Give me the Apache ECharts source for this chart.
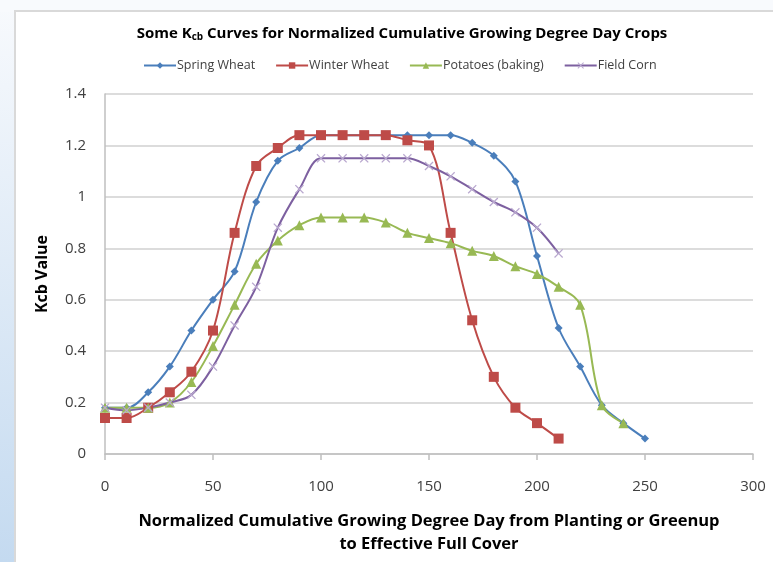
<!DOCTYPE html>
<html><head><meta charset="utf-8">
<script src="https://cdn.jsdelivr.net/npm/echarts@6/dist/echarts.min.js"></script>
<style>html,body{margin:0;padding:0;background:#fff}#c{width:773px;height:562px}</style>
</head><body><div id="c"></div>
<script>
const xValues = [0,10,20,30,40,50,60,70,80,90,100,110,120,130,140,150,160,170,180,190,200,210,220,230,240,250];
const springWheat = [0.18,0.18,0.24,0.34,0.48,0.60,0.71,0.98,1.14,1.19,1.24,1.24,1.24,1.24,1.24,1.24,1.24,1.21,1.16,1.06,0.77,0.49,0.34,0.19,0.12,0.06];
const winterWheat = [0.14,0.14,0.18,0.24,0.32,0.48,0.86,1.12,1.19,1.24,1.24,1.24,1.24,1.24,1.22,1.20,0.86,0.52,0.30,0.18,0.12,0.06];
const potatoes = [0.18,0.18,0.18,0.20,0.28,0.42,0.58,0.74,0.83,0.89,0.92,0.92,0.92,0.90,0.86,0.84,0.82,0.79,0.77,0.73,0.70,0.65,0.58,0.19,0.12];
const fieldCorn = [0.18,0.17,0.18,0.20,0.23,0.34,0.50,0.65,0.88,1.03,1.15,1.15,1.15,1.15,1.15,1.12,1.08,1.03,0.98,0.94,0.88,0.78];
const seriesNames = ['Spring Wheat','Winter Wheat','Potatoes (baking)','Field Corn'];
const xTicks = [0,50,100,150,200,250,300];
const yTicks = [0,0.2,0.4,0.6,0.8,1,1.2,1.4];

const pair = arr => arr.map((v,i)=>[xValues[i], v]);
const crossPath = 'path://M1,0L5,4L9,0L10,1L6,5L10,9L9,10L5,6L1,10L0,9L4,5L0,1Z';
const colors = ['#4A7EBB','#BE4B48','#98B954','#7D60A0'];
const font = '"Open Sans", "Liberation Sans", sans-serif';

const chart = echarts.init(document.getElementById('c'), null, {renderer:'canvas'});
function mk(name, data, color, symbol, size, symColor){
  return {name, type:'line', data:pair(data), smooth:0.35, symbol, symbolSize:size,
    lineStyle:{color, width:2}, itemStyle:{color:symColor||color, borderWidth:0},
    emphasis:{disabled:true}, z: 3};
}
chart.setOption({
  animation:false,
  backgroundColor:'transparent',
  graphic:[
    {type:'rect', shape:{x:0,y:0,width:773,height:562}, z:-10,
     style:{fill:new echarts.graphic.LinearGradient(0,0,0,1,[{offset:0,color:'#F8FAFD'},{offset:1,color:'#C4DAF0'}])}},
    {type:'rect', shape:{x:0,y:0,width:773,height:12}, z:-9, style:{fill:'#F8FAFD'}},
    {type:'rect', shape:{x:15,y:11,width:770,height:560}, z:-8, style:{fill:'#ffffff', stroke:'#D9D9D9', lineWidth:2}}
  ],
  title:{
    text:'Some K{sub|cb} Curves for Normalized Cumulative Growing Degree Day Crops',
    left:397, top:20, textAlign:'center',
    textStyle:{fontFamily:font, fontSize:15, fontWeight:'bold', color:'#000',
      rich:{sub:{fontFamily:font, fontSize:10, fontWeight:'bold', verticalAlign:'bottom', padding:[7,0,0,0]}}}
  },
  legend:{
    top:54, left:138, width:630, orient:'horizontal', itemGap:20, itemWidth:32, itemHeight:8,
    textStyle:{fontFamily:font, fontSize:12.5, color:'#404040', padding:[0,0,0,-4]},
    data:seriesNames
  },
  grid:{left:105, right:20, top:94, bottom:108, containLabel:false},
  xAxis:{
    type:'value', min:0, max:300, interval:50,
    name:'Normalized Cumulative Growing Degree Day from Planting or Greenup\nto Effective Full Cover',
    nameLocation:'middle', nameGap:56,
    nameTextStyle:{fontFamily:font, fontSize:16.5, fontWeight:'bold', color:'#000', lineHeight:23},
    axisLine:{lineStyle:{color:'#BFBFBF', width:1.5}},
    axisTick:{show:true, length:6, lineStyle:{color:'#BFBFBF', width:1.5}},
    axisLabel:{fontFamily:font, fontSize:15, color:'#404040', margin:25,
      formatter:v=>xTicks.includes(v)?String(v):''},
    splitLine:{show:false}
  },
  yAxis:{
    type:'value', min:0, max:1.4, interval:0.2,
    name:'Kcb Value', nameLocation:'middle', nameGap:55, nameRotate:90,
    nameTextStyle:{fontFamily:font, fontSize:16, fontWeight:'bold', color:'#000'},
    axisLine:{show:true, lineStyle:{color:'#BFBFBF', width:1.5}},
    axisTick:{show:false},
    axisLabel:{fontFamily:font, fontSize:15, color:'#404040', margin:19,
      formatter:v=>{const t=yTicks.find(y=>Math.abs(y-v)<1e-9); return t===undefined?'':String(+t.toFixed(1));}},
    splitLine:{show:true, lineStyle:{color:'#D0D0D0', width:1.5}}
  },
  series:[
    mk(seriesNames[0], springWheat, colors[0], 'diamond', 8),
    mk(seriesNames[1], winterWheat, colors[1], 'rect', 10),
    mk(seriesNames[2], potatoes, colors[2], 'triangle', 10),
    mk(seriesNames[3], fieldCorn, colors[3], crossPath, 9, '#B9A8CF')
  ]
});
</script></body></html>
